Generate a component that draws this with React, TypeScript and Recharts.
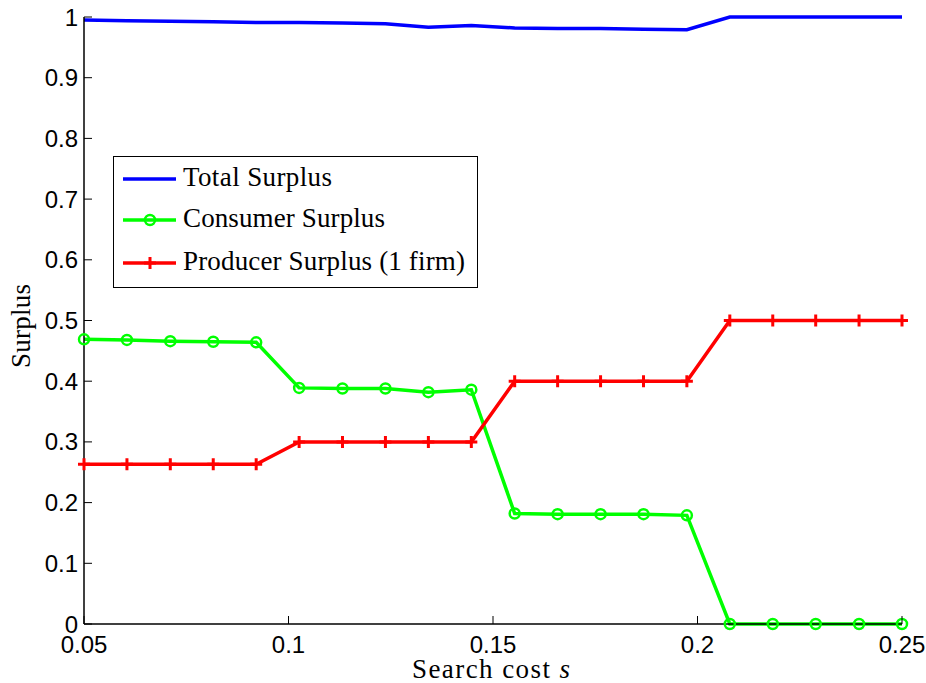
import React from "react";
import { LineChart, Line, XAxis, YAxis, Legend } from "recharts";

// values
const searchCost = [
  0.05, 0.0605, 0.0711, 0.0816, 0.0921, 0.1026, 0.1132, 0.1237, 0.1342, 0.1447,
  0.1553, 0.1658, 0.1763, 0.1868, 0.1974, 0.2079, 0.2184, 0.2289, 0.2395, 0.25,
];
const totalSurplus = [
  0.995, 0.994, 0.993, 0.992, 0.991, 0.991, 0.99, 0.989, 0.983, 0.986,
  0.982, 0.981, 0.981, 0.98, 0.979, 1, 1, 1, 1, 1,
];
const consumerSurplus = [
  0.469, 0.468, 0.466, 0.465, 0.464, 0.389, 0.388, 0.388, 0.382, 0.386,
  0.182, 0.181, 0.181, 0.181, 0.179, 0, 0, 0, 0, 0,
];
const producerSurplus = [
  0.263, 0.263, 0.263, 0.263, 0.263, 0.3, 0.3, 0.3, 0.3, 0.3,
  0.4, 0.4, 0.4, 0.4, 0.4, 0.5, 0.5, 0.5, 0.5, 0.5,
];
const xTicks = [0.05, 0.1, 0.15, 0.2, 0.25];
const yTicks = [0, 0.1, 0.2, 0.3, 0.4, 0.5, 0.6, 0.7, 0.8, 0.9, 1];
const seriesNames = ["Total Surplus", "Consumer Surplus", "Producer Surplus (1 firm)"];

const BLUE = "#0000ff";
const GREEN = "#00ff00";
const RED = "#ff0000";
const SANS = "'Liberation Sans', Arial, sans-serif";
const SERIF = "'Liberation Serif', 'Times New Roman', serif";
const TICK_LEN = 8;

const data = searchCost.map((s, i) => ({
  s,
  total: totalSurplus[i],
  consumer: consumerSurplus[i],
  producer: producerSurplus[i],
}));

function BottomTick({ x, y, payload }: any) {
  return (
    <g>
      <line x1={x} x2={x} y1={y} y2={y - TICK_LEN} stroke="#000" strokeWidth={1} />
      <text x={x} y={y + 29} textAnchor="middle" fontFamily={SANS} fontSize={24} fill="#000">
        {payload.value}
      </text>
    </g>
  );
}

function TopTick({ x, y }: any) {
  return <line x1={x} x2={x} y1={y} y2={y + TICK_LEN} stroke="#000" strokeWidth={1} />;
}

function LeftTick({ x, y, payload }: any) {
  return (
    <g>
      <line x1={x} x2={x + TICK_LEN} y1={y} y2={y} stroke="#000" strokeWidth={1} />
      <text x={x - 6} y={y + 8.5} textAnchor="end" fontFamily={SANS} fontSize={24} fill="#000">
        {payload.value}
      </text>
    </g>
  );
}

function RightTick({ x, y }: any) {
  return <line x1={x} x2={x - TICK_LEN} y1={y} y2={y} stroke="#000" strokeWidth={1} />;
}

function PlusDot({ cx, cy, index }: any) {
  if (cx == null || cy == null) return null;
  return (
    <path
      key={`plus-${index}`}
      d={`M${cx - 6},${cy}h12M${cx},${cy - 6}v12`}
      stroke={RED}
      strokeWidth={3}
      fill="none"
    />
  );
}

function XTitle(props: any) {
  const vb = props.viewBox || { x: 84, width: 818, y: 624 };
  return (
    <text
      x={vb.x + vb.width / 2 - 2}
      y={678}
      textAnchor="middle"
      fontFamily={SERIF}
      fontSize={27}
      fill="#000"
      textLength={158}
      lengthAdjust="spacing"
    >
      Search cost <tspan fontStyle="italic">s</tspan>
    </text>
  );
}

function YTitle() {
  return (
    <text
      x={0}
      y={0}
      transform="translate(30,326) rotate(-90)"
      textAnchor="middle"
      fontFamily={SERIF}
      fontSize={27}
      fill="#000"
      textLength={84}
      lengthAdjust="spacing"
    >
      Surplus
    </text>
  );
}

function LegendBox() {
  const rows = [
    { name: seriesNames[0], color: BLUE, marker: "none", y: 23, w: 149 },
    { name: seriesNames[1], color: GREEN, marker: "circle", y: 64, w: 202 },
    { name: seriesNames[2], color: RED, marker: "plus", y: 107, w: 282 },
  ];
  return (
    <svg width={365} height={132} style={{ display: "block" }}>
      <rect x={0.5} y={0.5} width={364} height={131} fill="#fff" stroke="#000" strokeWidth={1} />
      {rows.map((r) => (
        <g key={r.name}>
          <line x1={10} x2={63} y1={r.y} y2={r.y} stroke={r.color} strokeWidth={3.5} />
          {r.marker === "circle" && (
            <circle cx={37} cy={r.y} r={5} fill="none" stroke={r.color} strokeWidth={2.5} />
          )}
          {r.marker === "plus" && (
            <path d={`M31,${r.y}h12M37,${r.y - 6}v12`} stroke={r.color} strokeWidth={3} />
          )}
          <text
            x={70}
            y={r.y + 7}
            fontFamily={SERIF}
            fontSize={27}
            fill="#000"
            textLength={r.w}
            lengthAdjust="spacing"
          >
            {r.name}
          </text>
        </g>
      ))}
    </svg>
  );
}

export default function App() {
  return (
    <div style={{ position: "absolute", left: 0, top: 0, width: 926, height: 683, background: "#fff" }}>
      <LineChart width={926} height={683} data={data} margin={{ top: 17, right: 24, bottom: 0, left: 0 }}>
        <XAxis
          dataKey="s"
          type="number"
          domain={[0.05, 0.25]}
          ticks={xTicks}
          height={59}
          tickSize={0}
          tickMargin={0}
          tick={<BottomTick />}
          axisLine={{ stroke: "#000", strokeWidth: 1.5 }}
          label={XTitle}
        />
        <XAxis
          xAxisId="top"
          orientation="top"
          dataKey="s"
          type="number"
          domain={[0.05, 0.25]}
          ticks={xTicks}
          height={0}
          tickSize={0}
          tickMargin={0}
          tick={<TopTick />}
          axisLine={{ stroke: "#000", strokeWidth: 1.5 }}
        />
        <YAxis
          type="number"
          domain={[0, 1]}
          ticks={yTicks}
          width={84}
          tickSize={0}
          tickMargin={0}
          tick={<LeftTick />}
          axisLine={{ stroke: "#000", strokeWidth: 1.5 }}
          label={YTitle}
        />
        <YAxis
          yAxisId="right"
          orientation="right"
          type="number"
          domain={[0, 1]}
          ticks={yTicks}
          width={0}
          tickSize={0}
          tickMargin={0}
          tick={<RightTick />}
          axisLine={{ stroke: "#000", strokeWidth: 1.5 }}
        />
        <Legend
          layout="horizontal"
          verticalAlign="middle"
          align="center"
          wrapperStyle={{ left: 113, top: 156, width: 365, height: 132 }}
          content={LegendBox}
        />
        <Line
          dataKey="total"
          name={seriesNames[0]}
          stroke={BLUE}
          strokeWidth={3.5}
          dot={false}
          isAnimationActive={false}
        />
        <Line
          dataKey="consumer"
          name={seriesNames[1]}
          stroke={GREEN}
          strokeWidth={3.5}
          dot={{ r: 5, stroke: GREEN, strokeWidth: 2.5, fill: "none" }}
          isAnimationActive={false}
        />
        <Line
          dataKey="producer"
          name={seriesNames[2]}
          stroke={RED}
          strokeWidth={3.5}
          dot={<PlusDot />}
          isAnimationActive={false}
        />
      </LineChart>
    </div>
  );
}
